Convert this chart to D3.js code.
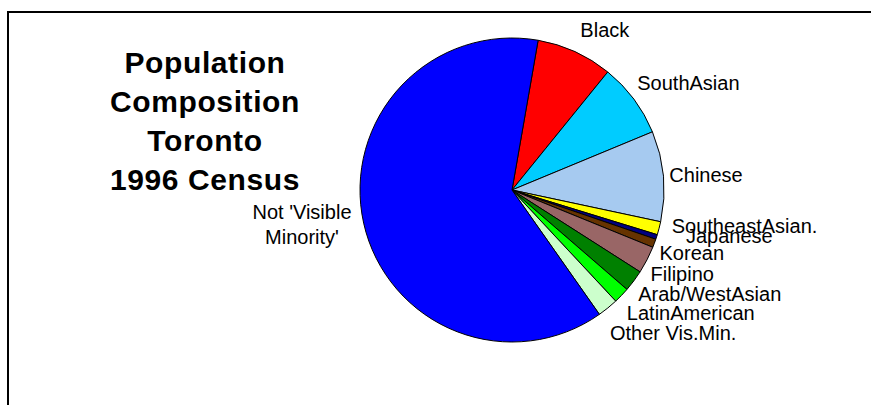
<!DOCTYPE html>
<html>
<head>
<meta charset="utf-8">
<script src="https://cdn.jsdelivr.net/npm/d3@7"></script>
<style>
  body { margin: 0; background: #fff; }
  svg { display: block; font-family: "Liberation Sans", Arial, sans-serif; }
</style>
</head>
<body>
<script>
// data (share of population, %)
const groups = ["Black", "SouthAsian", "Chinese", "SoutheastAsian.", "Japanese", "Korean",
  "Filipino", "Arab/WestAsian", "LatinAmerican", "Other Vis.Min.", "Not 'Visible Minority'"];
const shares = [8.1, 7.9, 9.6, 1.4, 0.5, 0.9, 2.9, 2.3, 1.7, 2.2, 62.5];
const sliceColors = ["#ff0000", "#00ccff", "#a6caf0", "#ffff00", "#000080", "#663300",
  "#996666", "#008000", "#00ff00", "#ccffcc", "#0000ff"];
const titleLines = ["Population", "Composition", "Toronto", "1996 Census"];

// label nudges from the mid-angle point (layout only)
const labelNudge = [[0, -3], [-7, -1], [-7, 7], [0, 1], [17, 2], [-7, 12],
  [-8, 15], [-6, 12], [-4, 16], [-6, 22], [-49, -7]];

const w = 871, h = 405;
const cx = 512, cy = 190, r = 152;

const svg = d3.select("body").append("svg")
  .attr("width", w)
  .attr("height", h);

// frame (runs off the right and bottom)
svg.append("rect")
  .attr("x", 8).attr("y", 12)
  .attr("width", 1000).attr("height", 1000)
  .attr("fill", "none")
  .attr("stroke", "#000")
  .attr("stroke-width", 2);

// title
svg.append("g")
  .selectAll("text")
  .data(titleLines)
  .enter()
  .append("text")
  .attr("x", 205)
  .attr("y", (d, i) => 73 + i * 39)
  .attr("text-anchor", "middle")
  .attr("font-size", 30)
  .attr("font-weight", "bold")
  .attr("letter-spacing", 0.6)
  .text(d => d);

const pie = d3.pie()
  .sort(null)
  .value(d => d)
  .startAngle(9.9 * Math.PI / 180)
  .endAngle(9.9 * Math.PI / 180 + 2 * Math.PI);

const arcs = pie(shares);
const arc = d3.arc().innerRadius(0).outerRadius(r);

const g = svg.append("g").attr("transform", `translate(${cx},${cy})`);

g.selectAll("path")
  .data(arcs)
  .enter()
  .append("path")
  .attr("d", arc)
  .attr("fill", (d, i) => sliceColors[i])
  .attr("stroke", "#000")
  .attr("stroke-width", 1);

// labels
const labels = g.append("g")
  .attr("font-size", 20)
  .attr("fill", "#000");

arcs.forEach((d, i) => {
  const mid = (d.startAngle + d.endAngle) / 2;
  const lx = Math.sin(mid) * (r + 13) + labelNudge[i][0];
  const ly = -Math.cos(mid) * (r + 13) + labelNudge[i][1];
  const left = Math.sin(mid) < 0;
  const t = labels.append("text")
    .attr("x", lx)
    .attr("y", ly)
    .attr("text-anchor", left ? "middle" : "start");
  if (left) {
    const parts = ["Not 'Visible", "Minority'"];
    parts.forEach((p, j) => {
      t.append("tspan").attr("x", lx).attr("dy", j === 0 ? 0 : 25).text(p);
    });
  } else {
    t.text(groups[i]);
  }
});
</script>
</body>
</html>
